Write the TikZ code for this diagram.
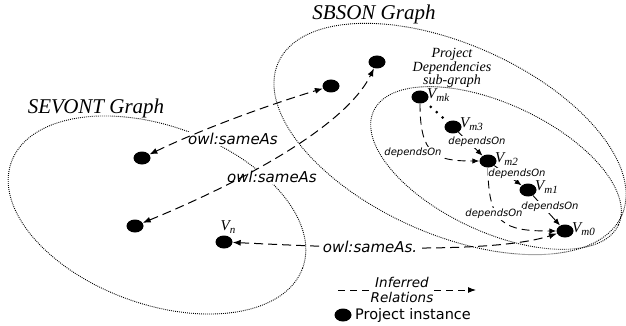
\documentclass[tikz,border=0pt]{standalone}
\usepackage{fontspec}
\setmainfont{Liberation Serif}
\setsansfont{DejaVu Sans}
\usetikzlibrary{shapes.geometric,arrows.meta}
\newcommand{\vsub}[1]{\raisebox{-3pt}{\fontsize{11}{11}\selectfont #1}}
\begin{document}
\begin{tikzpicture}[x=1pt,y=-1pt,
  grp/.style={line width=0.9pt, dash pattern=on 0.9pt off 1.1pt},
  pinst/.style={ellipse, fill=black, minimum width=17pt, minimum height=13pt, inner sep=0pt},
  ttl/.style={font=\fontsize{21}{24}\selectfont\itshape},
  subttl/.style={font=\fontsize{14}{12.5}\selectfont\itshape, align=center},
  vlbl/.style={font=\fontsize{15}{15}\selectfont\itshape, inner sep=0pt},
  owl/.style={font=\sffamily\itshape\fontsize{15}{16}\selectfont, fill=white, inner sep=1pt},
  deplbl/.style={font=\sffamily\itshape\fontsize{10}{11}\selectfont, fill=white, inner sep=0.8pt},
  sameas/.style={line width=1pt, dash pattern=on 9pt off 5pt, {Latex[length=8pt,width=6pt]}-{Latex[length=8pt,width=6pt]}},
  dep/.style={line width=0.9pt, -{Latex[length=7pt,width=5.5pt]}},
  depd/.style={dep, dash pattern=on 8pt off 5pt},
  depdots/.style={line width=3pt, line cap=round, dash pattern=on 0pt off 8pt, dash phase=1pt},
  legarr/.style={line width=1pt, dash pattern=on 7pt off 5pt, -{Latex[length=8pt,width=6pt]}}
]
\useasboundingbox (0,0) rectangle (626,326);
% groups
\draw[grp, rotate around={-20:(157,215)}] (157,215) ellipse [x radius=155, y radius=89];
\draw[grp, rotate around={-24:(450,139)}] (450,139) ellipse [x radius=188, y radius=95];
\draw[grp, rotate around={-25:(496,168)}] (496,168) ellipse [x radius=135, y radius=64];
% titles
\node[ttl] (tsb) at (374,14) {SBSON Graph};
\node[ttl] (tse) at (96,108) {SEVONT Graph};
\node[subttl] (tpd) at (452,68) {Project\\Dependencies\\sub-graph};
% labels under edges
\node[owl] (o1) at (233,139) {owl:sameAs};
\node[owl] (o2) at (272,177) {owl:sameAs};
% instances
\node[pinst] (n1) at (142,158) {};
\node[pinst] (n2) at (135,226) {};
\node[pinst] (vn) at (224,242) {};
\node[pinst] (s1) at (331,86) {};
\node[pinst] (s2) at (377,62) {};
\node[pinst] (vmk) at (420,97) {};
\node[pinst] (vm3) at (453,127) {};
\node[pinst] (vm2) at (488,161) {};
\node[pinst] (vm1) at (528,190) {};
\node[pinst] (vm0) at (565,231) {};
% instance labels
\node[vlbl, anchor=base west] (lmk) at (427,99) {V\vsub{mk}};
\node[vlbl, anchor=base west] (lm3) at (460,128) {V\vsub{m3}};
\node[vlbl, anchor=base west] (lm2) at (495,162) {V\vsub{m2}};
\node[vlbl, anchor=base west] (lm1) at (535,190) {V\vsub{m1}};
\node[vlbl, anchor=base west] (lm0) at (572,232) {V\vsub{m0}};
\node[vlbl, anchor=base] (lvn) at (228,230) {V\vsub{n}};
% edges
\draw[sameas] (n1) .. controls (200,130) and (265,106) .. (s1);
\draw[sameas] (n2) .. controls (235,185) and (345,128) .. (s2);
\draw[sameas] (vn) .. controls (330,247) and (490,255) .. (vm0);
\draw[depdots] (vmk) -- (vm3);
\draw[dep] (vm3) -- (vm2);
\draw[dep] (vm2) -- (vm1);
\draw[dep] (vm1) -- (vm0);
\draw[depd] (vmk) .. controls (420,155) and (435,161) .. (vm2);
\draw[depd] (vm2) .. controls (488,225) and (505,231) .. (vm0);
% labels over edges
\node[owl] (o3) at (370,247) {owl:sameAs.};
\node[deplbl] (d1) at (477,142) {dependsOn};
\node[deplbl] (d2) at (517,174) {dependsOn};
\node[deplbl] (d3) at (550,207) {dependsOn};
\node[deplbl] (d4) at (413,153) {dependsOn};
\node[deplbl] (d5) at (494,214) {dependsOn};
% legend
\coordinate (la) at (338,290);
\coordinate (lb) at (476,290);
\draw[legarr] (la) -- (lb);
\node[font=\sffamily\itshape\fontsize{13.5}{15}\selectfont, align=center, fill=white, inner sep=0.5pt] (inf) at (402,290) {Inferred\\Relations};
\node[pinst] (lgd) at (343,315) {};
\node[font=\sffamily\fontsize{14.5}{16}\selectfont, anchor=west, inner sep=0pt] (lgt) at (355,315) {Project instance};
\end{tikzpicture}
\end{document}
